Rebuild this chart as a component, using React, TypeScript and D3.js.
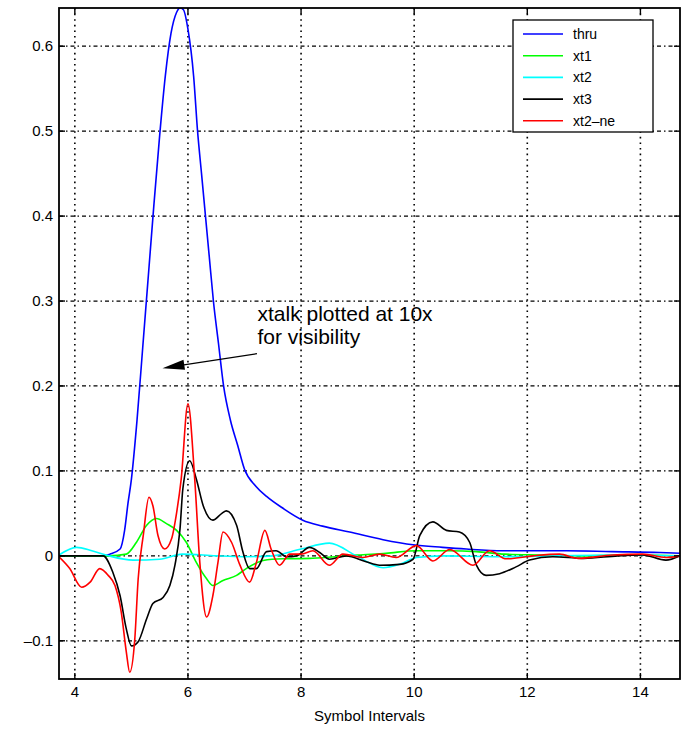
import React from "react";
import * as d3 from "d3";

const thruX = [3.7, 4.5, 4.62, 4.8, 4.88, 4.94, 5.0, 5.1, 5.2, 5.3, 5.4, 5.5, 5.6, 5.7, 5.8, 5.86, 5.92, 6.0, 6.1, 6.17, 6.24, 6.31, 6.38, 6.45, 6.54, 6.63, 6.75, 6.88, 7.0, 7.2, 7.39, 7.68, 8.03, 8.38, 8.86, 9.45, 9.98, 10.5, 10.92, 11.57, 12.69, 13.5, 14.34, 14.7];
const thruY = [0, 0, 0.002, 0.008, 0.03, 0.062, 0.09, 0.16, 0.245, 0.33, 0.415, 0.495, 0.565, 0.615, 0.64, 0.645, 0.643, 0.62, 0.565, 0.5, 0.45, 0.4, 0.35, 0.3, 0.25, 0.2, 0.16, 0.13, 0.102, 0.082, 0.07, 0.056, 0.042, 0.035, 0.028, 0.019, 0.013, 0.01, 0.008, 0.006, 0.006, 0.005, 0.004, 0.003];

const xt1X = [3.7, 4.6, 4.91, 5.09, 5.27, 5.44, 5.62, 5.8, 5.97, 6.15, 6.33, 6.44, 6.62, 6.86, 7.03, 7.33, 7.68, 8.15, 8.6, 9.0, 9.5, 10.04, 10.6, 11.1, 11.6, 12.2, 13.0, 14.0, 14.7];
const xt1Y = [0, 0, 0.002, 0.016, 0.036, 0.044, 0.038, 0.03, 0.016, -0.008, -0.027, -0.035, -0.029, -0.023, -0.015, -0.0055, -0.0035, -0.003, -0.001, 0.001, 0.003, 0.006, 0.006, 0.005, 0.002, 0.001, 0.0, 0.001, 0];

const xt2X = [3.7, 4.03, 4.3, 4.6, 5.03, 5.5, 5.9, 6.5, 7.0, 7.5, 8.0, 8.5, 8.98, 9.45, 9.74, 10.04, 10.5, 11.5, 12.5, 13.5, 14.7];
const xt2Y = [0, 0.01, 0.006, 0.0, -0.005, -0.004, 0.002, 0.0, -0.001, 0.0, 0.008, 0.015, 0.0, -0.014, -0.01, -0.002, 0.0, -0.001, 0.0, 0.001, 0];

const xt3X = [3.7, 4.5, 4.67, 4.8, 4.91, 5.0, 5.12, 5.27, 5.38, 5.56, 5.68, 5.77, 5.86, 5.91, 6.03, 6.15, 6.27, 6.44, 6.6, 6.68, 6.86, 6.97, 7.09, 7.21, 7.39, 7.56, 7.74, 7.92, 8.15, 8.33, 8.5, 8.8, 9.15, 9.39, 9.74, 9.98, 10.1, 10.33, 10.57, 10.8, 10.98, 11.1, 11.27, 11.51, 11.8, 12.04, 12.45, 13.0, 13.6, 14.04, 14.45, 14.7];
const xt3Y = [0, 0, -0.019, -0.047, -0.086, -0.106, -0.101, -0.074, -0.056, -0.049, -0.035, -0.011, 0.032, 0.079, 0.112, 0.09, 0.059, 0.042, 0.05, 0.053, 0.036, 0.005, -0.015, -0.015, 0.005, 0.006, -0.001, 0.0, 0.01, 0.004, -0.004, 0.0, -0.007, -0.011, -0.01, -0.004, 0.024, 0.04, 0.03, 0.028, 0.016, -0.011, -0.023, -0.021, -0.013, -0.005, -0.001, -0.003, 0.0, 0.001, -0.005, 0];

const xt2neX = [3.7, 3.91, 4.12, 4.27, 4.44, 4.59, 4.71, 4.82, 4.91, 4.97, 5.06, 5.12, 5.21, 5.31, 5.38, 5.47, 5.59, 5.71, 5.8, 5.88, 6.0, 6.12, 6.21, 6.33, 6.44, 6.53, 6.62, 6.77, 6.92, 7.09, 7.21, 7.36, 7.47, 7.62, 7.8, 8.0, 8.21, 8.5, 8.74, 9.09, 9.39, 9.68, 10.04, 10.33, 10.63, 11.04, 11.33, 11.63, 12.1, 12.57, 12.9, 13.5, 14.04, 14.45, 14.7];
const xt2neY = [0, -0.015, -0.037, -0.031, -0.015, -0.023, -0.035, -0.066, -0.113, -0.137, -0.098, -0.027, 0.024, 0.069, 0.059, 0.024, 0.008, 0.02, 0.051, 0.09, 0.179, 0.09, -0.008, -0.072, -0.047, -0.008, 0.028, 0.016, -0.011, -0.031, -0.008, 0.03, 0.008, -0.011, 0.002, 0.002, 0.006, -0.011, 0.002, -0.002, 0.002, -0.002, 0.012, -0.006, 0.0075, -0.011, 0.006, -0.0035, 0.0, 0.002, -0.003, 0.001, 0.002, -0.002, 0];

const seriesNames = ["thru", "xt1", "xt2", "xt3", "xt2\u2013ne"];
const seriesColors = ["#0000ff", "#00ff00", "#00ffff", "#000000", "#ff0000"];
const seriesXs = [thruX, xt1X, xt2X, xt3X, xt2neX];
const seriesYs = [thruY, xt1Y, xt2Y, xt3Y, xt2neY];

const xTicks = [4, 6, 8, 10, 12, 14];
const yTicks = [-0.1, 0, 0.1, 0.2, 0.3, 0.4, 0.5, 0.6];
const xDomain = [3.72, 14.7];
const yDomain = [-0.145, 0.645];

const annotationLines = ["xtalk plotted at 10x", "for visibility"];
const annotationPos = [7.23, 0.277];
const arrowFrom = [7.22, 0.238];
const arrowTo = [5.55, 0.221];
const xLabel = "Symbol Intervals";

const W = 681, H = 729;
const L = 59, R = 680, T = 8, B = 679;
const FONT = "'Liberation Sans', Arial, Helvetica, sans-serif";

export default function App() {
  const x = d3.scaleLinear().domain(xDomain).range([L, R]);
  const y = d3.scaleLinear().domain(yDomain).range([B, T]);
  const line = d3
    .line<[number, number]>()
    .x((d) => x(d[0]))
    .y((d) => y(d[1]))
    .curve(d3.curveMonotoneX);

  const fmtY = (v: number) => (v === 0 ? "0" : v < 0 ? "\u2013" + Math.abs(v).toFixed(1) : v.toFixed(1));

  const ax = x(arrowFrom[0]), ay = y(arrowFrom[1]);
  const bx = x(arrowTo[0]), by = y(arrowTo[1]);
  const ang = Math.atan2(by - ay, bx - ax);
  const hl = 22, hw = 5;
  const p1 = [bx - hl * Math.cos(ang) + hw * Math.sin(ang), by - hl * Math.sin(ang) - hw * Math.cos(ang)];
  const p2 = [bx - hl * Math.cos(ang) - hw * Math.sin(ang), by - hl * Math.sin(ang) + hw * Math.cos(ang)];

  const legX = 513, legY = 20, legW = 140, legH = 112, legRow = 21.7;

  return (
    <svg width={W} height={H} style={{ position: "absolute", left: 0, top: 0, background: "#fff" }} fontFamily={FONT}>
      <defs>
        <clipPath id="plotclip">
          <rect x={L} y={T} width={R - L} height={B - T} />
        </clipPath>
      </defs>
      <g stroke="#000" fill="none">
        {xTicks.map((t) => (
          <line key={"gx" + t} x1={x(t)} x2={x(t)} y1={T} y2={B} strokeWidth={1.6} strokeDasharray="1.6,4" />
        ))}
        {yTicks.map((t) => (
          <line key={"gy" + t} x1={L} x2={R} y1={y(t)} y2={y(t)} strokeWidth={1.2} strokeDasharray="4,3,1.5,3" />
        ))}
      </g>
      <g clipPath="url(#plotclip)" fill="none">
        {seriesXs.map((xs, i) => {
          const pts = xs.map((v, j) => [v, seriesYs[i][j]] as [number, number]);
          return <path key={i} d={line(pts) || ""} stroke={seriesColors[i]} strokeWidth={1.6} strokeLinejoin="round" />;
        })}
      </g>
      <rect x={L} y={T} width={R - L} height={B - T} fill="none" stroke="#000" strokeWidth={1.8} />
      <g stroke="#000" strokeWidth={1.4}>
        {xTicks.map((t) => (
          <g key={"tx" + t}>
            <line x1={x(t)} x2={x(t)} y1={B} y2={B - 6} />
            <line x1={x(t)} x2={x(t)} y1={T} y2={T + 6} />
          </g>
        ))}
        {yTicks.map((t) => (
          <g key={"ty" + t}>
            <line x1={L} x2={L + 6} y1={y(t)} y2={y(t)} />
            <line x1={R} x2={R - 6} y1={y(t)} y2={y(t)} />
          </g>
        ))}
      </g>
      <g fontSize={15} fill="#000">
        {xTicks.map((t) => (
          <text key={"lx" + t} x={x(t)} y={B + 18} textAnchor="middle">
            {t}
          </text>
        ))}
        {yTicks.map((t) => (
          <text key={"ly" + t} x={L - 6} y={y(t) + 5} textAnchor="end">
            {fmtY(t)}
          </text>
        ))}
        <text x={(L + R) / 2} y={B + 42} textAnchor="middle" fontSize={15}>
          {xLabel}
        </text>
      </g>
      <g fill="#000">
        {annotationLines.map((s, i) => (
          <text key={s} x={x(annotationPos[0])} y={y(annotationPos[1]) + i * 23} fontSize={21}>
            {s}
          </text>
        ))}
        <line x1={ax} y1={ay} x2={bx - 10 * Math.cos(ang)} y2={by - 10 * Math.sin(ang)} stroke="#000" strokeWidth={1.3} />
        <polygon points={`${bx},${by} ${p1[0]},${p1[1]} ${p2[0]},${p2[1]}`} fill="#000" />
      </g>
      <g>
        <rect x={legX} y={legY} width={legW} height={legH} fill="#fff" stroke="#000" strokeWidth={1.3} />
        {seriesNames.map((n, i) => {
          const cy = legY + 14 + i * legRow;
          return (
            <g key={n}>
              <line x1={legX + 10} x2={legX + 50} y1={cy} y2={cy} stroke={seriesColors[i]} strokeWidth={1.6} />
              <text x={legX + 60} y={cy + 5} fontSize={14} fill="#000">
                {n}
              </text>
            </g>
          );
        })}
      </g>
    </svg>
  );
}
